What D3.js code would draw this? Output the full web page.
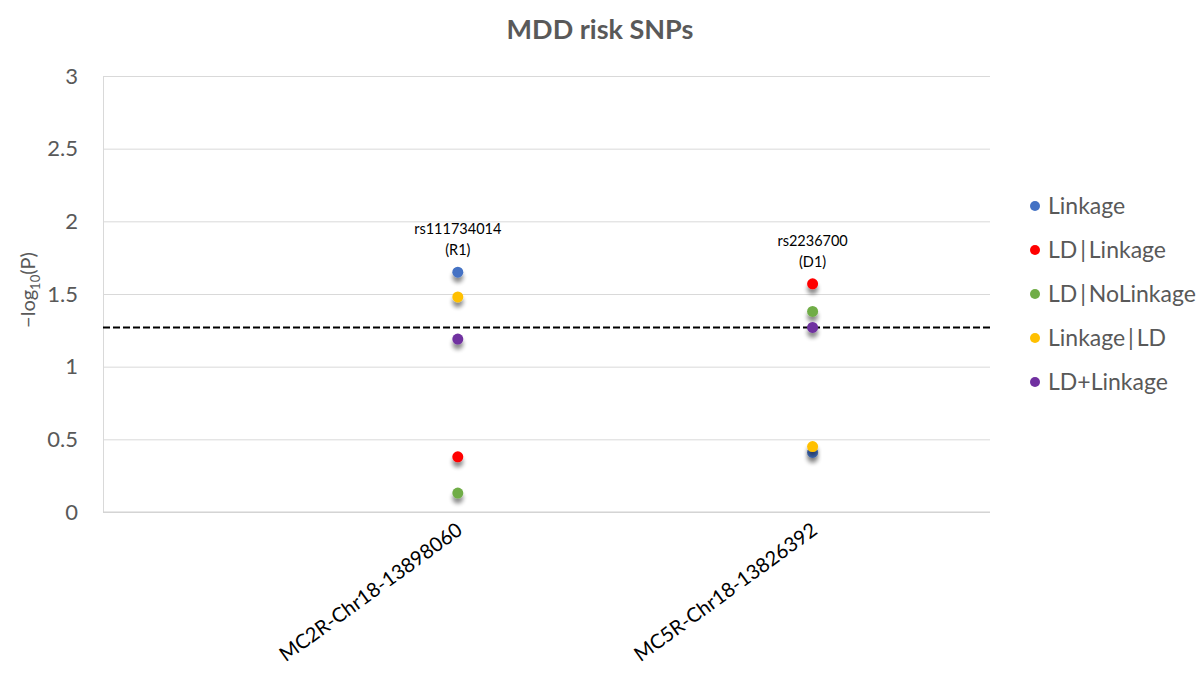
<!DOCTYPE html>
<html><head><meta charset="utf-8">
<script src="https://cdn.jsdelivr.net/npm/d3@7"></script>
<style>body{margin:0;background:#fff;} text{font-family:Lato,"Open Sans",sans-serif;}</style>
</head><body>
<svg id="c" width="1204" height="673"></svg>
<script>
const categories = ["MC2R-Chr18-13898060", "MC5R-Chr18-13826392"];
const categoryX = [1, 2];
const seriesNames = ["Linkage", "LD\u2009|\u2009Linkage", "LD\u2009|\u2009NoLinkage", "Linkage\u2009|\u2009LD", "LD+Linkage"];
const seriesColors = ["#4472C4", "#FF0000", "#70AD47", "#FFC000", "#7030A0"];
const linkage = [1.65, 0.41];
const ldLinkage = [0.38, 1.57];
const ldNoLinkage = [0.13, 1.38];
const linkageLd = [1.48, 0.45];
const ldPlusLinkage = [1.19, 1.27];
const yTicks = [0, 0.5, 1, 1.5, 2, 2.5, 3];
const threshold = 1.27;
const snpLabels = [["rs111734014", "(R1)"], ["rs2236700", "(D1)"]];

const seriesValues = [linkage, ldLinkage, ldNoLinkage, linkageLd, ldPlusLinkage];
const svg = d3.select("#c");
const L = 103, R = 990, T = 76, B = 512;
const x = d3.scaleLinear().domain([0, 2.5]).range([L, R]);
const y = d3.scaleLinear().domain([0, 3]).range([B, T]);
const grey = "#595959";

const defs = svg.append("defs");
const f = defs.append("filter").attr("id", "sh").attr("x", "-100%").attr("y", "-100%").attr("width", "300%").attr("height", "400%");
f.append("feGaussianBlur").attr("in", "SourceAlpha").attr("stdDeviation", 2.2).attr("result", "b");
f.append("feOffset").attr("in", "b").attr("dy", 5).attr("result", "o");
f.append("feComponentTransfer").attr("in", "o").attr("result", "o2").append("feFuncA").attr("type", "linear").attr("slope", 0.45);
const m = f.append("feMerge"); m.append("feMergeNode").attr("in", "o2"); m.append("feMergeNode").attr("in", "SourceGraphic");

svg.append("text").attr("x", 600).attr("y", 39).attr("text-anchor", "middle")
  .attr("font-size", 27).attr("font-weight", "bold").attr("fill", grey).text("MDD risk SNPs");

// grid
const yAxis = d3.axisLeft(y).tickValues(yTicks).tickSize(-(R - L)).tickFormat(d3.format("~g")).tickPadding(25);
const ga = svg.append("g").attr("transform", `translate(${L},0)`).call(yAxis);
ga.select(".domain").attr("stroke", "#d9d9d9");
ga.selectAll(".tick line").attr("stroke", "#d9d9d9");
ga.selectAll(".tick text").attr("font-size", 22).attr("fill", grey).attr("font-family", "Lato,'Open Sans',sans-serif");

// bottom axis line
svg.append("line").attr("x1", L).attr("x2", R).attr("y1", B).attr("y2", B).attr("stroke", "#d0d0d0");

// x labels
categories.forEach((c, i) => {
  svg.append("text").attr("transform", `translate(${x(categoryX[i]) + 6},${B + 21}) rotate(-36)`)
    .attr("text-anchor", "end").attr("font-size", 20).attr("fill", "#000")
    .attr("textLength", 220).attr("lengthAdjust", "spacingAndGlyphs").text(c);
});

// y title
const yt = svg.append("text").attr("transform", `translate(35,${(T + B) / 2 - 4}) rotate(-90)`)
  .attr("text-anchor", "middle").attr("font-size", 20).attr("fill", grey);
yt.append("tspan").text("\u2212log");
yt.append("tspan").attr("font-size", 13).attr("dy", 5).text("10");
yt.append("tspan").attr("dy", -5).text("(P)");

// threshold
svg.append("line").attr("x1", L).attr("x2", R).attr("y1", y(threshold)).attr("y2", y(threshold))
  .attr("stroke", "#000").attr("stroke-width", 2).attr("stroke-dasharray", "7,3");

// points
seriesValues.forEach((vals, s) => {
  svg.append("g").selectAll("circle").data(vals).join("circle")
    .attr("cx", (d, i) => x(categoryX[i])).attr("cy", d => y(d)).attr("r", 5.5)
    .attr("fill", seriesColors[s]).attr("filter", "url(#sh)");
});

// snp labels
snpLabels.forEach((lab, i) => {
  const top = y(d3.max(seriesValues, v => v[i]));
  svg.append("text").attr("x", x(categoryX[i])).attr("y", top - 38).attr("text-anchor", "middle")
    .attr("font-size", 14.5).attr("fill", "#000").text(lab[0]);
  svg.append("text").attr("x", x(categoryX[i])).attr("y", top - 17).attr("text-anchor", "middle")
    .attr("font-size", 14.5).attr("fill", "#000").text(lab[1]);
});

// legend
seriesNames.forEach((n, s) => {
  const ly = 206 + s * 44;
  svg.append("circle").attr("cx", 1035).attr("cy", ly).attr("r", 5).attr("fill", seriesColors[s]);
  svg.append("text").attr("x", 1048).attr("y", ly + 8).attr("font-size", 23).attr("fill", grey).text(n);
});
</script>
</body></html>
